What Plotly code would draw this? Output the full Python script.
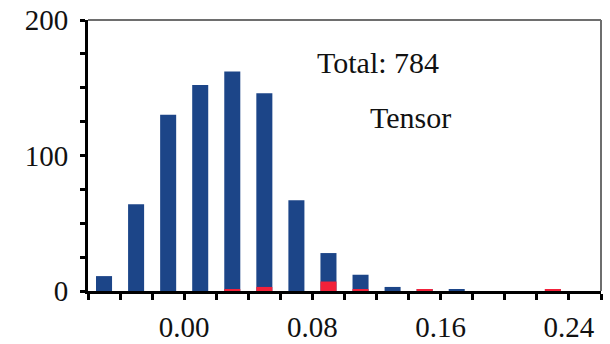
import plotly.graph_objects as go

bin_centers = [-0.05, -0.03, -0.01, 0.01, 0.03, 0.05, 0.07, 0.09, 0.11, 0.13, 0.15, 0.17, 0.19, 0.21, 0.23, 0.25]
total_counts = [11, 64, 130, 152, 162, 146, 67, 28, 12, 3, 1, 1, 0, 0, 1, 0]
red_counts = [0, 0, 0, 0, 1, 3, 0, 7, 1, 0, 1, 0, 0, 0, 1, 0]
x_tick_vals = [0.00, 0.08, 0.16, 0.24]
x_tick_text = ["0.00", "0.08", "0.16", "0.24"]
y_tick_vals = [0, 100, 200]
y_tick_text = ["0", "100", "200"]

FONT = "Liberation Serif, Times New Roman, serif"

fig = go.Figure()
fig.add_trace(go.Bar(x=bin_centers, y=total_counts, width=0.01,
                     marker=dict(color="#1c4588", line=dict(width=0)), showlegend=False))
fig.add_trace(go.Bar(x=bin_centers, y=red_counts, width=0.01,
                     marker=dict(color="#f2213a", line=dict(width=0)), showlegend=False))

fig.update_layout(
    barmode="overlay",
    width=610, height=344,
    margin=dict(l=88, r=9, t=20, b=53, autoexpand=False),
    paper_bgcolor="white", plot_bgcolor="white",
    font=dict(family=FONT, size=29, color="#111"),
    xaxis=dict(range=[-0.06, 0.26], tickvals=x_tick_vals, ticktext=x_tick_text,
               ticks="outside", ticklen=6, tickwidth=2.5, tickcolor="black",
               minor=dict(dtick=0.02, tick0=0, ticks="outside", ticklen=6, tickwidth=2.5, tickcolor="black"),
               showline=True, linecolor="black", linewidth=3, showgrid=False, zeroline=False,
               ticklabelstandoff=2, automargin=False),
    yaxis=dict(range=[0, 200], tickvals=y_tick_vals, ticktext=y_tick_text,
               ticks="outside", ticklen=5, tickwidth=2.5, tickcolor="black",
               minor=dict(dtick=25, tick0=0, ticks="outside", ticklen=5, tickwidth=2.5, tickcolor="black"),
               showline=True, linecolor="black", linewidth=3, showgrid=False, zeroline=False,
               ticklabelstandoff=6, automargin=False),
    shapes=[
        dict(type="line", xref="paper", yref="paper", x0=0, x1=1, y0=1, y1=1,
             line=dict(color="#6e6e6e", width=2)),
        dict(type="line", xref="paper", yref="paper", x0=1, x1=1, y0=0, y1=1,
             line=dict(color="#6e6e6e", width=2)),
    ],
    annotations=[
        dict(x=0.1206, y=169, xref="x", yref="y", text="Total: 784", showarrow=False,
             font=dict(family=FONT, size=30, color="#111")),
        dict(x=0.141, y=128, xref="x", yref="y", text="Tensor", showarrow=False,
             font=dict(family=FONT, size=30, color="#111")),
    ],
)

fig.write_html("out.html", config={"displayModeBar": False},
               post_script="document.body.style.margin='0px';document.body.style.overflow='hidden';")
